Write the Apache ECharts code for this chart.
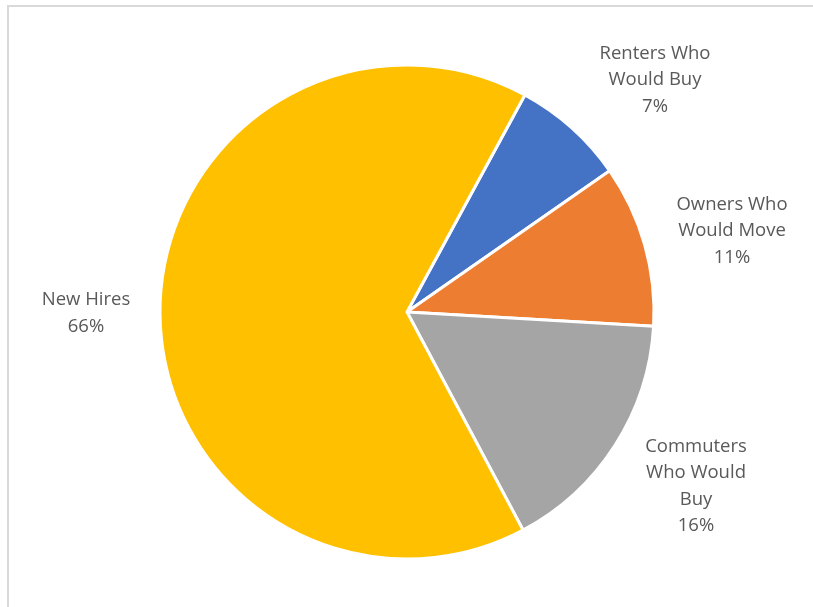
<!DOCTYPE html>
<html>
<head>
<meta charset="utf-8">
<script src="https://cdn.jsdelivr.net/npm/echarts@6/dist/echarts.min.js"></script>
<style>
  html, body { margin: 0; padding: 0; background: #fff; }
  #main { width: 813px; height: 607px; }
  .frame { position: absolute; left: 7px; top: 5px; width: 820px; height: 620px; border: 2px solid #d9d9d9; box-sizing: border-box; }
</style>
</head>
<body>
<div class="frame"></div>
<div id="main" style="position:absolute;left:0;top:0;"></div>
<script>
  // slice data, clockwise from the blue one
  const names = ['Renters Who\nWould Buy', 'Owners Who\nWould Move', 'Commuters\nWho Would\nBuy', 'New Hires']
  const values = [7.4, 10.6, 16.3, 65.7]
  const colors = ['#4472C4', '#ED7D31', '#A5A5A5', '#FFC000']
  // label centres (px)
  const labelPos = [[655, 80], [732, 231], [696, 486], [86, 313]]

  const chart = echarts.init(document.getElementById('main'), null, { renderer: 'canvas' })
  chart.setOption({
    animation: false,
    series: [
      {
        type: 'pie',
        center: [407, 312],
        radius: 247,
        startAngle: 61.5,
        clockwise: true,
        percentPrecision: 0,
        itemStyle: { borderColor: '#fff', borderWidth: 3 },
        label: {
          show: true,
          formatter: '{b}\n{d}%',
          color: '#595959',
          fontFamily: 'Open Sans',
          fontSize: 18.5,
          lineHeight: 26.5,
          align: 'center',
          overflow: 'none',
          width: 200
        },
        labelLine: { show: false },
        labelLayout: function(params) {
          const p = labelPos[params.dataIndex]
          return { x: p[0], y: p[1], align: 'center', verticalAlign: 'middle' }
        },
        data: names.map((n, i) => ({ name: n, value: values[i], itemStyle: { color: colors[i] } }))
      }
    ]
  })
</script>
</body>
</html>
